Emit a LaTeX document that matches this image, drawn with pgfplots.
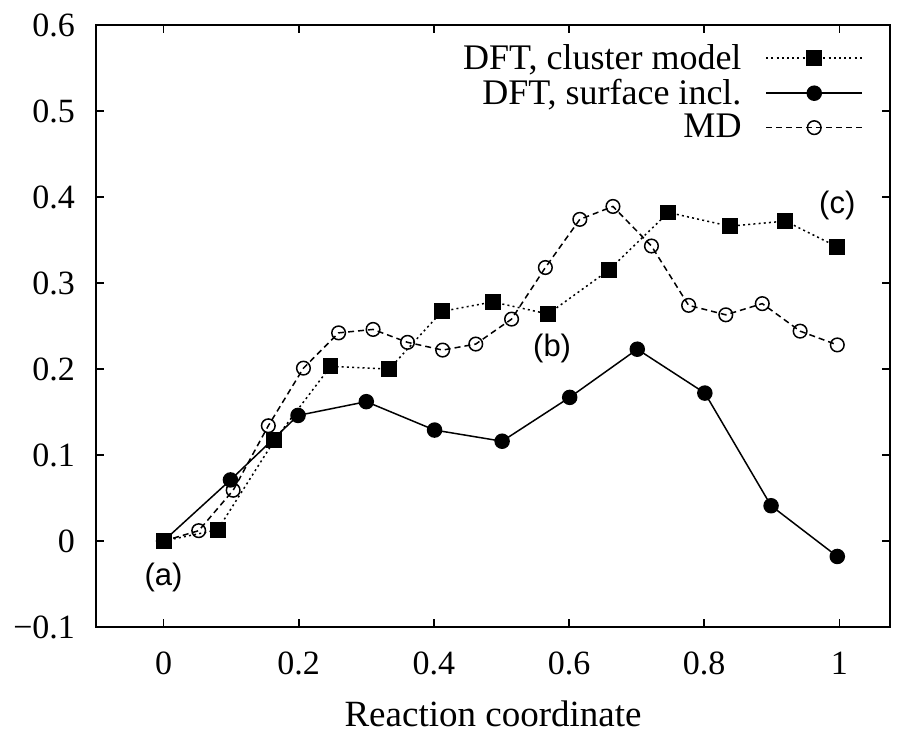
\documentclass[border=0pt]{standalone}
\usepackage{pgfplots}
\pgfplotsset{compat=1.18}
\usepackage{fontspec}
\setmainfont{Liberation Serif}
\newfontfamily\labelfont{Liberation Sans}

% DFT, cluster model
\pgfplotstableread{
x y
0.000 0.000
0.080 0.013
0.164 0.117
0.247 0.203
0.334 0.200
0.412 0.267
0.487 0.278
0.569 0.264
0.659 0.315
0.747 0.382
0.838 0.366
0.920 0.372
0.997 0.342
}\clusterdata

% DFT, surface included
\pgfplotstableread{
x y
0.000 0.000
0.099 0.071
0.199 0.146
0.300 0.162
0.401 0.129
0.501 0.116
0.601 0.167
0.701 0.223
0.801 0.172
0.899 0.041
0.997 -0.018
}\surfacedata

% MD
\pgfplotstableread{
x y
0.000 0.000
0.052 0.012
0.103 0.059
0.155 0.134
0.207 0.201
0.259 0.242
0.310 0.246
0.361 0.231
0.413 0.222
0.462 0.229
0.515 0.258
0.565 0.318
0.616 0.374
0.665 0.389
0.722 0.343
0.777 0.274
0.832 0.263
0.886 0.276
0.942 0.244
0.997 0.228
}\mddata

\begin{document}
\begin{tikzpicture}
\useasboundingbox (-48pt,-52.5pt) rectangle (402.5pt,313.5pt);
\begin{axis}[
  at={(0,0)}, anchor=south west,
  scale only axis, width=397pt, height=301pt,
  xmin=-0.1, xmax=1.075, ymin=-0.1, ymax=0.6,
  xtick={0,0.2,0.4,0.6,0.8,1},
  xticklabels={0,0.2,0.4,0.6,0.8,1},
  ytick={-0.1,0,0.1,0.2,0.3,0.4,0.5,0.6},
  yticklabels={−0.1,0,0.1,0.2,0.3,0.4,0.5,0.6},
  tick align=inside,
  major tick length=4pt,
  tick style={line width=0.8pt, black},
  axis line style={line width=1pt},
  ticklabel style={font=\fontsize{17}{20}\selectfont},
  xticklabel style={yshift=-9pt},
  yticklabel style={xshift=-7pt},
  xlabel={Reaction coordinate},
  xlabel style={font=\fontsize{18.5}{21}\selectfont, yshift=-6pt},
  legend cell align=right,
  legend plot pos=right,
  legend style={draw=none, fill=none, inner sep=0pt, outer sep=0pt,
    at={(0.966,0.975)}, anchor=north east,
    font=\fontsize{18}{20}\selectfont, row sep=-0.5pt, column sep=10pt},
  legend image code/.code={\draw[#1, mark repeat=2, mark phase=2]
    plot coordinates {(0pt,0pt) (24pt,0pt) (48pt,0pt)};},
]
\addplot[black, line width=0.75pt, dash pattern=on 1pt off 1.6pt,
  mark=square*, mark size=3.6pt, mark options={solid}]
  table[x=x, y=y] {\clusterdata};
\addlegendentry{DFT, cluster model}
\addplot[black, line width=0.75pt,
  mark=*, mark size=3.5pt, mark options={solid}]
  table[x=x, y=y] {\surfacedata};
\addlegendentry{DFT, surface incl.}
\addplot[black, line width=0.75pt, dash pattern=on 3pt off 2pt,
  mark=o, mark size=3.4pt, mark options={solid, fill=white}]
  table[x=x, y=y] {\mddata};
\addlegendentry{MD}

\node[font=\labelfont\fontsize{15.5}{18}\selectfont] at (axis cs:0,-0.043) {(a)};
\node[font=\labelfont\fontsize{15.5}{18}\selectfont] at (axis cs:0.575,0.224) {(b)};
\node[font=\labelfont\fontsize{15.5}{18}\selectfont] at (axis cs:0.997,0.39) {(c)};
\end{axis}
\end{tikzpicture}
\end{document}
